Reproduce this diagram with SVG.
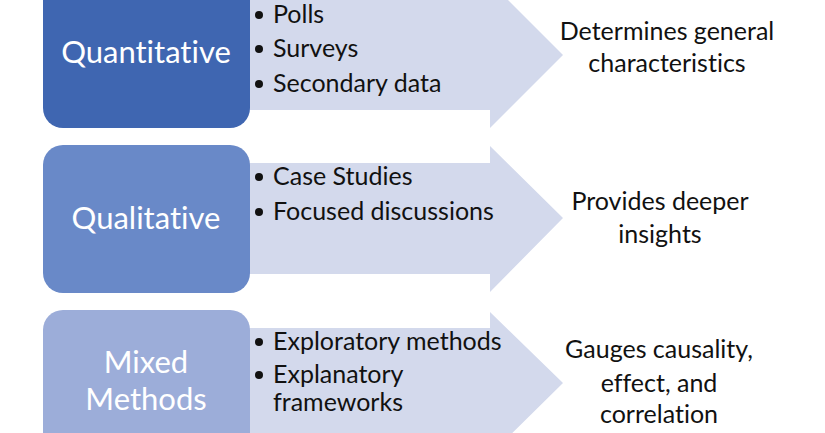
<svg xmlns="http://www.w3.org/2000/svg" width="825" height="433" viewBox="0 0 825 433">
<style>
text{font-variant-ligatures:none;font-feature-settings:"liga" 0,"clig" 0}
.arrow{fill:#D3D9EC}
.box-t{font-family:Lato,"Liberation Sans",sans-serif;font-size:31px;fill:#ffffff;text-anchor:middle}
.bul{font-family:Lato,"Liberation Sans",sans-serif;font-size:25px;fill:#111111}
.res{font-family:Lato,"Liberation Sans",sans-serif;font-size:25px;fill:#111111;text-anchor:middle}
.dot{fill:#111111}
</style>
<rect width="825" height="433" fill="#ffffff"/>
<g id="connectors">
<path class="arrow" d="M240,0 H490 V-18 L563,55 L490,128 V110 H240 Z"/>
<path class="arrow" d="M240,163 H490 V146 L563,218 L490,292 V274 H240 Z"/>
<path class="arrow" d="M240,328 H490 V312 L563,383 L490,455 V438 H240 Z"/>
</g>
<g id="quantitative">
<rect x="43" y="-20" width="207" height="148" rx="20" fill="#3F66B1"/>
<text class="box-t" x="146" y="63">Quantitative</text>
</g>
<g id="quantitative-items">
<circle class="dot" cx="259" cy="15" r="4"/><text class="bul" x="273" y="23">Polls</text>
<circle class="dot" cx="259" cy="49" r="4"/><text class="bul" x="273" y="57">Surveys</text>
<circle class="dot" cx="259" cy="84" r="4"/><text class="bul" x="273" y="92">Secondary data</text>
</g>
<g id="quantitative-result">
<text class="res" x="667" y="40">Determines general</text>
<text class="res" x="667" y="72">characteristics</text>
</g>
<g id="qualitative">
<rect x="43" y="145" width="207" height="148" rx="20" fill="#6989C8"/>
<text class="box-t" x="146" y="229">Qualitative</text>
</g>
<g id="qualitative-items">
<circle class="dot" cx="259" cy="177" r="4"/><text class="bul" x="273" y="185">Case Studies</text>
<circle class="dot" cx="259" cy="212" r="4"/><text class="bul" x="273" y="220">Focused discussions</text>
</g>
<g id="qualitative-result">
<text class="res" x="660" y="210">Provides deeper</text>
<text class="res" x="660" y="243">insights</text>
</g>
<g id="mixed">
<rect x="43" y="310" width="207" height="148" rx="20" fill="#9CADD9"/>
<text class="box-t" x="146" y="373">Mixed</text>
<text class="box-t" x="146" y="410">Methods</text>
</g>
<g id="mixed-items">
<circle class="dot" cx="259" cy="342" r="4"/><text class="bul" x="273" y="350">Exploratory methods</text>
<circle class="dot" cx="259" cy="375" r="4"/><text class="bul" x="273" y="383">Explanatory</text>
<text class="bul" x="273" y="411">frameworks</text>
</g>
<g id="mixed-result">
<text class="res" x="659" y="358">Gauges causality,</text>
<text class="res" x="659" y="392">effect, and</text>
<text class="res" x="659" y="423">correlation</text>
</g>
</svg>
